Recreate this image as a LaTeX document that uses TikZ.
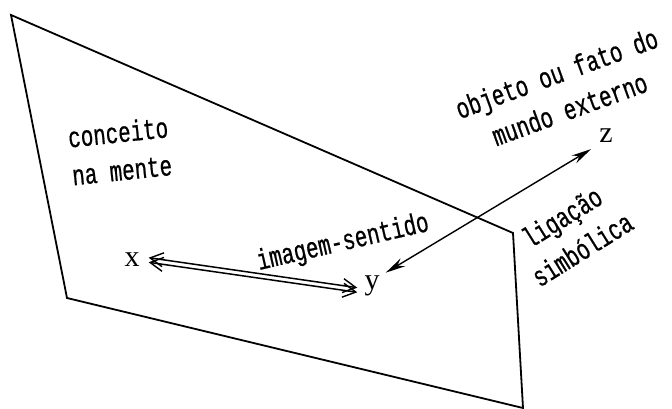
\documentclass[tikz,border=0pt]{standalone}
\usepackage{fontspec}
\newfontfamily\typefont[FakeStretch=0.72,FakeBold=0.6]{Liberation Mono}
\newfontfamily\letterfont{Liberation Serif}
\usetikzlibrary{arrows.meta,calc,positioning}

\begin{document}
\begin{tikzpicture}[x=1pt,y=1pt,
    edge/.style={line width=1.8pt, line join=miter},
    lbl/.style={font=\typefont\fontsize{29}{38}\selectfont, inner sep=0pt},
    var/.style={font=\letterfont\fontsize{30}{30}\selectfont, inner sep=1pt},
    rail/.style={line width=1.5pt, {Straight Barb[length=13pt,width=14pt,line width=1.4pt]}-{Straight Barb[length=13pt,width=14pt,line width=1.4pt]}},
    link/.style={line width=1.4pt, {Stealth[length=20pt,width=9pt]}-{Stealth[length=20pt,width=9pt]}}
]
    \useasboundingbox (0,0) rectangle (672,409);

    % plane of the mind
    \coordinate (tl) at (11,394);
    \coordinate (tr) at (513,176);
    \coordinate (br) at (523,1);
    \coordinate (bl) at (67,111);
    \draw[edge] (tl) -- (tr) -- (br) -- (bl) -- cycle;

    % the three points
    \node[var] (x) at (132,149) {x};
    \node[var] (y) at (372,123) {y};
    \node[var] (z) at (606,273) {z};

    % image link, drawn as two rails
    \draw[rail] ($(x.east)+(8,2.3)$) -- ($(y.west)+(-6,-1.7)$);
    \draw[rail] ($(x.east)+(8,-2.3)$) -- ($(y.west)+(-6,-6.3)$);

    % symbolic link
    \draw[link] ([shift={(5,2)}]y.north east) -- ([shift={(-7,-5)}]z.south west);

    % labels
    \node[lbl, rotate=6, align=left] (concept) at (120,258) {conceito\\na mente};
    \node[lbl, rotate=13] (sense) at (343,166) {imagem-sentido};
    \node[lbl, rotate=20, align=center] (object) at (563,318) {objeto ou fato do\\mundo externo};
    \node[lbl, rotate=32, align=center] (symbol) at (572,176) {ligação\\simbólica};
\end{tikzpicture}
\end{document}
